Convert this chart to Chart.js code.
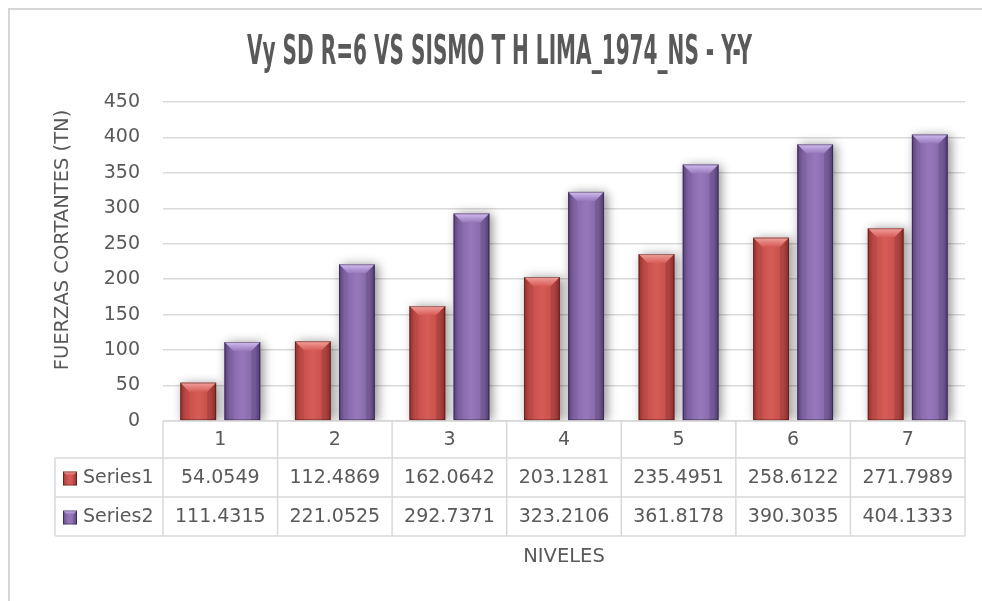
<!DOCTYPE html>
<html>
<head>
<meta charset="utf-8">
<title>Vy SD R=6 VS SISMO T H LIMA_1974_NS - Y-Y</title>
<script src="https://cdn.jsdelivr.net/npm/chart.js@4.4.1/dist/chart.umd.min.js"></script>
<style>
  html, body { margin: 0; padding: 0; background: #fff; }
  #wrap { width: 982px; height: 601px; position: relative; }
</style>
</head>
<body>
<div id="wrap"><canvas id="chart" width="982" height="601"></canvas></div>
<script>
// data
const niveles = ["1", "2", "3", "4", "5", "6", "7"];
const series1 = [54.0549, 112.4869, 162.0642, 203.1281, 235.4951, 258.6122, 271.7989];
const series2 = [111.4315, 221.0525, 292.7371, 323.2106, 361.8178, 390.3035, 404.1333];
const seriesNames = ["Series1", "Series2"];
const yMin = 0;
const yMax = 450;
const yStep = 50;

const chartTitle = "Vy SD R=6 VS SISMO T H LIMA_1974_NS - Y-Y";
const yTitle = "FUERZAS CORTANTES (TN)";
const xTitle = "NIVELES";

const textColor = "#595959";
const lineColor = "#d9d9d9";
const font = "DejaVu Sans";

// colours per series
const palette = [
  { base: "#c44c48", dark: "#9e3431", light: "#d65c57", top: "#f2a19c" },
  { base: "#8466a8", dark: "#5d4583", light: "#9678bb", top: "#d2bdf0" },
];

function barBox(el) {
  const p = el.getProps(["x", "y", "base", "width"], true);
  return { l: p.x - p.width / 2, r: p.x + p.width / 2, t: Math.min(p.y, p.base), b: Math.max(p.y, p.base) };
}

function paintBar(ctx, box, col) {
  const { l, r, t, b } = box;
  const w = r - l, h = b - t;
  const bev = Math.min(9, w * 0.26, h / 2);
  // body
  const g = ctx.createLinearGradient(l, 0, r, 0);
  g.addColorStop(0, col.dark);
  g.addColorStop(0.15, col.base);
  g.addColorStop(0.5, col.light);
  g.addColorStop(0.85, col.base);
  g.addColorStop(1, col.dark);
  ctx.fillStyle = g;
  ctx.fillRect(l, t, w, h);
  // right side a bit darker
  ctx.fillStyle = "rgba(0,0,0,0.12)";
  ctx.beginPath();
  ctx.moveTo(r, t); ctx.lineTo(r - bev, t + bev); ctx.lineTo(r - bev, b); ctx.lineTo(r, b);
  ctx.closePath(); ctx.fill();
  // left side
  ctx.fillStyle = "rgba(0,0,0,0.05)";
  ctx.beginPath();
  ctx.moveTo(l, t); ctx.lineTo(l + bev, t + bev); ctx.lineTo(l + bev, b); ctx.lineTo(l, b);
  ctx.closePath(); ctx.fill();
  // top bevel
  const tg = ctx.createLinearGradient(0, t, 0, t + bev);
  tg.addColorStop(0, col.top);
  tg.addColorStop(1, col.light);
  ctx.fillStyle = tg;
  ctx.beginPath();
  ctx.moveTo(l, t); ctx.lineTo(r, t); ctx.lineTo(r - bev, t + bev); ctx.lineTo(l + bev, t + bev);
  ctx.closePath(); ctx.fill();
  // outline
  ctx.strokeStyle = "rgba(0,0,0,0.35)";
  ctx.lineWidth = 1;
  ctx.strokeRect(l + 0.5, t + 0.5, w - 1, h - 1);
}

const framePlugin = {
  id: "frame",
  beforeDraw(chart) {
    const ctx = chart.ctx;
    ctx.save();
    ctx.fillStyle = "#fff";
    ctx.fillRect(0, 0, chart.width, chart.height);
    ctx.strokeStyle = "#d6d6d6";
    ctx.lineWidth = 2;
    ctx.beginPath();
    ctx.moveTo(9, chart.height);
    ctx.lineTo(9, 9);
    ctx.lineTo(chart.width, 9);
    ctx.stroke();
    ctx.restore();
  },
};

const barLookPlugin = {
  id: "barLook",
  beforeDatasetsDraw(chart) {
    const ctx = chart.ctx;
    ctx.save();
    ctx.shadowColor = "rgba(0,0,0,0.45)";
    ctx.shadowBlur = 10;
    ctx.shadowOffsetX = 3;
    ctx.shadowOffsetY = 1;
  },
  afterDatasetsDraw(chart) {
    const ctx = chart.ctx;
    ctx.restore();
    ctx.save();
    chart.data.datasets.forEach((ds, i) => {
      chart.getDatasetMeta(i).data.forEach((el) => paintBar(ctx, barBox(el), palette[i]));
    });
    ctx.restore();
  },
};

const tablePlugin = {
  id: "dataTable",
  afterDraw(chart) {
    const ctx = chart.ctx;
    const area = chart.chartArea;
    const xs = chart.scales.x;
    const n = niveles.length;
    const cw = (area.right - area.left) / n;
    const top = area.bottom;
    const r1 = top + 37, r2 = r1 + 39, r3 = r2 + 39;
    const tableLeft = 55;

    ctx.save();
    ctx.strokeStyle = lineColor;
    ctx.lineWidth = 1.5;
    ctx.beginPath();
    ctx.moveTo(area.left, top); ctx.lineTo(area.right, top);
    [r1, r2, r3].forEach((y) => { ctx.moveTo(tableLeft, y); ctx.lineTo(area.right, y); });
    for (let i = 0; i <= n; i++) {
      const x = area.left + i * cw;
      ctx.moveTo(x, top); ctx.lineTo(x, r3);
    }
    ctx.moveTo(tableLeft, r1); ctx.lineTo(tableLeft, r3);
    ctx.stroke();

    ctx.fillStyle = textColor;
    ctx.font = "19px '" + font + "'";
    ctx.textAlign = "center";
    ctx.textBaseline = "middle";
    niveles.forEach((lab, i) => ctx.fillText(lab, xs.getPixelForValue(i), (top + r1) / 2 + 1));

    const rows = [series1, series2];
    const rowMid = [(r1 + r2) / 2 + 1, (r2 + r3) / 2 + 1];
    rows.forEach((vals, s) => {
      ctx.textAlign = "center";
      vals.forEach((v, i) => ctx.fillText(v.toFixed(4), xs.getPixelForValue(i), rowMid[s]));
      // legend key
      paintBar(ctx, { l: 63, r: 77, t: rowMid[s] - 7, b: rowMid[s] + 7 }, palette[s]);
      ctx.fillStyle = textColor;
      ctx.textAlign = "left";
      ctx.fillText(seriesNames[s], 83, rowMid[s]);
    });

    // axis titles
    ctx.textAlign = "center";
    ctx.font = "19.5px '" + font + "'";
    ctx.fillText(xTitle, (area.left + area.right) / 2, 557);
    ctx.save();
    ctx.translate(63, 240);
    ctx.rotate(-Math.PI / 2);
    ctx.fillText(yTitle, 0, 0);
    ctx.restore();

    // chart title, condensed
    ctx.font = "bold 40px 'DejaVu Sans Condensed', 'DejaVu Sans'";
    ctx.textAlign = "left";
    ctx.textBaseline = "alphabetic";
    const tw = ctx.measureText(chartTitle).width;
    const targetW = 505;
    ctx.translate(247, 64);
    ctx.scale(targetW / tw, 1);
    ctx.fillText(chartTitle, 0, 0);
    ctx.restore();
  },
};

const ctx = document.getElementById("chart").getContext("2d");
new Chart(ctx, {
  type: "bar",
  data: {
    labels: niveles,
    datasets: [
      { label: seriesNames[0], data: series1, backgroundColor: palette[0].base, borderWidth: 0 },
      { label: seriesNames[1], data: series2, backgroundColor: palette[1].base, borderWidth: 0 },
    ],
  },
  options: {
    responsive: false,
    animation: false,
    devicePixelRatio: 1,
    layout: { padding: { top: 102, bottom: 180, left: 0, right: 17 } },
    datasets: { bar: { categoryPercentage: 0.77, barPercentage: 0.81 } },
    plugins: {
      legend: { display: false },
      tooltip: { enabled: false },
      title: { display: false },
    },
    scales: {
      x: { display: false },
      y: {
        min: yMin,
        max: yMax,
        ticks: { stepSize: yStep, padding: 23, color: textColor, font: { family: font, size: 19 } },
        grid: { color: lineColor, lineWidth: 1.5, drawTicks: false },
        border: { display: false },
        afterFit(axis) { axis.width = 163; },
      },
    },
  },
  plugins: [framePlugin, barLookPlugin, tablePlugin],
});
</script>
</body>
</html>
